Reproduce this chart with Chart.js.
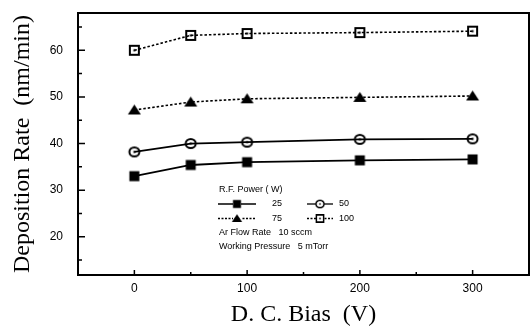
<!DOCTYPE html>
<html>
<head>
<meta charset="utf-8">
<script src="https://cdn.jsdelivr.net/npm/chart.js@4"></script>
<style>
    html, body { margin: 0; padding: 0; background: #fff; }
    #wrap { width: 531px; height: 328px; }
</style>
</head>
<body>
<div id="wrap"><canvas id="rateChart"></canvas></div>
<script>
// D.C. bias (V) and deposition rate (nm/min) per R.F. power
const biasV = [0, 50, 100, 200, 300];
const rate25 = [33.0, 35.4, 36.0, 36.4, 36.6];
const rate50 = [38.2, 40.0, 40.3, 40.9, 41.0];
const rate75 = [47.2, 48.9, 49.6, 49.9, 50.2];
const rate100 = [60.0, 63.2, 63.6, 63.8, 64.1];
const powerLabels = ['25', '50', '75', '100'];
const xTicks = [0, 50, 100, 150, 200, 250, 300];
const yTicks = [15, 20, 25, 30, 35, 40, 45, 50, 55, 60, 65];
const legendTitle = 'R.F. Power ( W)';
const notes = ['Ar Flow Rate   10 sccm', 'Working Pressure   5 mTorr'];

const sans = "'Liberation Sans', Arial, sans-serif";
const serif = "'Liberation Serif', 'Times New Roman', serif";

// marker images drawn once, used both for the points and the legend
function makeMarker(kind) {
    const c = document.createElement('canvas');
    c.width = 15;
    c.height = 15;
    const g = c.getContext('2d');
    g.fillStyle = '#000';
    g.strokeStyle = '#000';
    if (kind === 'fsquare') {
        g.fillRect(2.5, 2.5, 10, 10);
    } else if (kind === 'triangle') {
        g.beginPath();
        g.moveTo(7.5, 2);
        g.lineTo(14, 12);
        g.lineTo(1, 12);
        g.closePath();
        g.fill();
    } else if (kind === 'ocircle') {
        g.lineWidth = 2;
        g.beginPath();
        g.ellipse(7.5, 7.5, 5, 4.5, 0, 0, Math.PI * 2);
        g.stroke();
        g.fillRect(6.5, 6.5, 2, 2);
    } else {
        g.lineWidth = 2;
        g.strokeRect(3, 3, 9, 9);
        g.fillRect(6.5, 6.5, 2, 2);
    }
    return c;
}

function series(values, marker, dash) {
    return {
        data: biasV.map((v, i) => ({ x: v, y: values[i] })),
        borderColor: '#000',
        backgroundColor: '#000',
        borderWidth: dash ? 1.6 : 1.8,
        borderDash: dash ? [2.5, 2] : [],
        pointStyle: makeMarker(marker),
        pointRadius: 6,
        tension: 0
    };
}

// fixed box sizes, no extra label padding around the plot
function fixBox(size, key) {
    return scale => {
        scale[key] = size;
        scale.paddingTop = 0;
        scale.paddingBottom = 0;
        scale.paddingLeft = 0;
        scale.paddingRight = 0;
    };
}

const frameAndLegend = {
    id: 'frameAndLegend',
    afterDraw(chart) {
        const { ctx, chartArea: a, scales: { x, y } } = chart;
        ctx.save();
        ctx.strokeStyle = '#000';
        ctx.lineWidth = 2;
        ctx.strokeRect(a.left, a.top, a.right - a.left, a.bottom - a.top);

        // inward tick marks
        ctx.lineWidth = 1.5;
        ctx.beginPath();
        yTicks.forEach(v => {
            const py = y.getPixelForValue(v);
            const len = v % 10 === 0 ? 7 : 4;
            ctx.moveTo(a.left, py);
            ctx.lineTo(a.left + len, py);
        });
        xTicks.forEach(v => {
            const px = x.getPixelForValue(v);
            const len = v % 100 === 0 ? 5 : 3;
            ctx.moveTo(px, a.bottom);
            ctx.lineTo(px, a.bottom - len);
        });
        ctx.stroke();

        // legend block inside the plot
        ctx.fillStyle = '#000';
        ctx.font = '9px ' + sans;
        ctx.textBaseline = 'middle';
        ctx.textAlign = 'left';
        ctx.fillText(legendTitle, 219, 190);

        const cols = [
            { x0: 218, x1: 256, mx: 237, tx: 272 },
            { x0: 307, x1: 333, mx: 320, tx: 339 }
        ];
        chart.data.datasets.forEach((ds, i) => {
            const col = cols[i % 2];
            const ry = 204 + Math.floor(i / 2) * 14.5;
            ctx.lineWidth = 1.3;
            ctx.setLineDash(ds.borderDash.length ? [2, 1.5] : []);
            ctx.beginPath();
            ctx.moveTo(col.x0, ry);
            ctx.lineTo(col.x1, ry);
            ctx.stroke();
            ctx.setLineDash([]);
            const img = ds.pointStyle;
            const s = 12;
            ctx.fillStyle = '#fff';
            ctx.fillRect(col.mx - 4, ry - 4, 8, 8);
            ctx.fillStyle = '#000';
            ctx.drawImage(img, col.mx - s / 2, ry - s / 2, s, s);
            ctx.fillText(powerLabels[i], col.tx, ry);
        });

        notes.forEach((t, i) => ctx.fillText(t, 219, 233 + i * 14));
        ctx.restore();
    }
};

new Chart(document.getElementById('rateChart'), {
    type: 'line',
    data: {
        datasets: [
            series(rate25, 'fsquare', false),
            series(rate50, 'ocircle', false),
            series(rate75, 'triangle', true),
            series(rate100, 'osquare', true)
        ]
    },
    options: {
        responsive: true,
        maintainAspectRatio: false,
        animation: false,
        devicePixelRatio: 1,
        layout: { autoPadding: false, padding: { top: 13, right: 2, left: 0, bottom: 0 } },
        plugins: {
            legend: { display: false },
            tooltip: { enabled: false }
        },
        scales: {
            x: {
                type: 'linear',
                min: -50,
                max: 350,
                afterBuildTicks: scale => { scale.ticks = xTicks.map(v => ({ value: v })); },
                afterFit: fixBox(53, 'height'),
                grid: { display: false, drawTicks: false },
                border: { display: false },
                ticks: {
                    autoSkip: false,
                    maxRotation: 0,
                    padding: 6,
                    color: '#000',
                    font: { family: sans, size: 12 },
                    callback: v => (v % 100 === 0 ? v : '')
                },
                title: {
                    display: true,
                    text: 'D. C. Bias  (V)',
                    color: '#000',
                    font: { family: serif, size: 24, lineHeight: 1 },
                    padding: { top: 0, bottom: 1 }
                }
            },
            y: {
                min: 11.8,
                max: 68,
                afterBuildTicks: scale => { scale.ticks = yTicks.map(v => ({ value: v })); },
                afterFit: fixBox(78, 'width'),
                grid: { display: false, drawTicks: false },
                border: { display: false },
                ticks: {
                    autoSkip: false,
                    padding: 15,
                    color: '#000',
                    font: { family: sans, size: 12 },
                    callback: v => (v % 10 === 0 ? v : '')
                },
                title: {
                    display: true,
                    text: 'Deposition Rate  (nm/min)',
                    color: '#000',
                    font: { family: serif, size: 24, lineHeight: 1 },
                    padding: { top: 11, bottom: 0 }
                }
            }
        }
    },
    plugins: [frameAndLegend]
});
</script>
</body>
</html>
